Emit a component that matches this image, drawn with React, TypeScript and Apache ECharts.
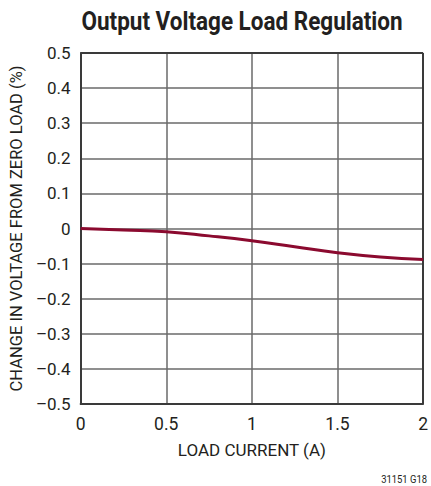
import React, { useEffect, useRef } from "react";
import * as echarts from "echarts";

const loadCurrent = [0, 0.25, 0.5, 0.75, 1.0, 1.25, 1.5, 1.75, 2.0];
const voltageChange = [0, -0.004, -0.009, -0.021, -0.035, -0.052, -0.069, -0.081, -0.088];
const xTicks = [0, 0.5, 1, 1.5, 2];

const FONT = "Roboto, 'Liberation Sans', sans-serif";
const INK = "#231f20";

function fmt(v: number): string {
  const r = Math.round(v * 10) / 10;
  if (r === 0) return "0";
  const s = Math.abs(r).toString();
  return r < 0 ? "\u2013" + s : s;
}

export default function App() {
  const ref = useRef<HTMLDivElement>(null);
  useEffect(() => {
    if (!ref.current) return;
    const chart = echarts.init(ref.current, undefined, { renderer: "svg" });
    chart.setOption({
      animation: false,
      backgroundColor: "#ffffff",
      textStyle: { fontFamily: FONT },
      graphic: [
        {
          type: "text",
          x: 242,
          y: 22,
          scaleX: 0.9,
          style: {
            text: "Output Voltage Load Regulation",
            font: "bold 25px " + FONT,
            fill: INK,
            textAlign: "center",
            textVerticalAlign: "middle",
          },
        },
        {
          type: "text",
          x: 427,
          y: 479,
          scaleX: 0.9,
          style: {
            text: "31151 G18",
            font: "10.5px " + FONT,
            fill: INK,
            textAlign: "right",
            textVerticalAlign: "middle",
          },
        },
      ],
      grid: { left: 76, right: 3, top: 53, bottom: 82 },
      xAxis: {
        type: "value",
        min: 0,
        max: 2,
        interval: 0.5,
        name: "LOAD CURRENT (A)",
        nameLocation: "middle",
        nameGap: 37,
        nameTextStyle: { fontFamily: FONT, fontSize: 17, color: INK },
        axisLine: { show: true, onZero: false, lineStyle: { color: "#3a3a3a", width: 2 } },
        axisTick: { show: false },
        axisLabel: {
          fontFamily: FONT,
          fontSize: 17.5,
          color: INK,
          margin: 11,
          formatter: (v: number) => (xTicks.includes(v) ? String(v) : ""),
        },
        splitLine: { show: true, lineStyle: { color: "#6a6a6a", width: 1.5 } },
      },
      yAxis: {
        type: "value",
        min: -0.5,
        max: 0.5,
        interval: 0.1,
        name: "CHANGE IN VOLTAGE FROM ZERO LOAD (%)",
        nameLocation: "middle",
        nameGap: 55,
        nameTextStyle: { fontFamily: FONT, fontSize: 16.5, color: INK },
        axisLine: { show: true, onZero: false, lineStyle: { color: "#3a3a3a", width: 2 } },
        axisTick: { show: false },
        axisLabel: {
          fontFamily: FONT,
          fontSize: 17,
          color: INK,
          margin: 10,
          formatter: (v: number) => fmt(v),
        },
        splitLine: { show: true, lineStyle: { color: "#6a6a6a", width: 1.5 } },
      },
      series: [
        {
          type: "line",
          data: loadCurrent.map((x, i) => [x, voltageChange[i]]),
          smooth: true,
          showSymbol: false,
          lineStyle: { color: "#8b0a2f", width: 3 },
          z: 5,
        },
        {
          type: "line",
          data: [],
          markLine: {
            silent: true,
            symbol: "none",
            label: { show: false },
            lineStyle: { color: "#3a3a3a", width: 2, type: "solid" },
            data: [{ xAxis: 2 }, { yAxis: 0.5 }],
          },
        },
      ],
    });
    return () => chart.dispose();
  }, []);
  return (
    <div
      ref={ref}
      style={{ position: "fixed", left: 0, top: 0, width: 431, height: 486, overflow: "hidden" }}
    />
  );
}
